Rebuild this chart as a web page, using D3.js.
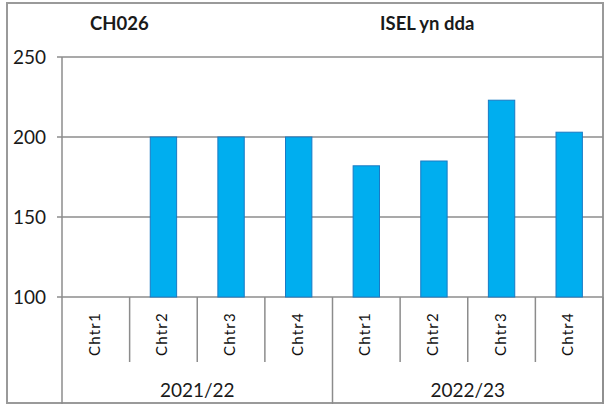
<!DOCTYPE html>
<html>
<head>
<meta charset="utf-8">
<script src="https://cdn.jsdelivr.net/npm/d3@7"></script>
<style>
body { margin: 0; background: #fff; }
svg { display: block; font-family: Lato, 'Liberation Sans', sans-serif; }
.grid line { stroke: #8c8c8c; stroke-width: 1.5; }
.bar { fill: #00aeef; stroke: #1a7ac4; stroke-width: 1; }
</style>
</head>
<body>
<svg width="605" height="404"></svg>
<script>
// chart data
var years = ["2021/22", "2022/23"];
var quarters = ["Chtr1", "Chtr2", "Chtr3", "Chtr4"];
var values2122 = [null, 200, 200, 200];
var values2223 = [182, 185, 223, 203];
var yTicks = [100, 150, 200, 250];
var titles = ["CH026", "ISEL yn dda"];

var svg = d3.select("svg");

// build the flat category list (year + quarter)
var rows = [];
years.forEach(function (yr, i) {
  var vals = i == 0 ? values2122 : values2223;
  quarters.forEach(function (q, j) {
    rows.push({ key: yr + "|" + q, year: yr, q: q, value: vals[j] });
  });
});

// plot box (note: "top" is taken by window.top, so use p* names)
var pLeft = 62, pRight = 603, pTop = 57, pBottom = 297;

var x = d3.scaleBand().domain(rows.map(function (d) { return d.key; }))
  .range([pLeft, pRight]).padding(0);
var y = d3.scaleLinear().domain([100, 250]).range([pBottom, pTop]);

// outer frame
svg.append("rect")
  .attr("x", 7).attr("y", 3).attr("width", 596).attr("height", 400)
  .attr("fill", "none").attr("stroke", "#9a9a9a").attr("stroke-width", 2);

// titles
svg.selectAll("text.title").data(titles).enter().append("text")
  .attr("class", "title")
  .attr("x", function (d, i) { return i == 0 ? 90 : 380; })
  .attr("y", 30)
  .attr("font-size", "18.5px").attr("font-weight", "bold").attr("fill", "#1a1a1a")
  .text(function (d) { return d; });

// gridlines + ticks
var grid = svg.append("g").attr("class", "grid");
grid.selectAll("line").data(yTicks).enter().append("line")
  .attr("x1", pLeft - 5).attr("x2", pRight)
  .attr("y1", function (d) { return y(d); }).attr("y2", function (d) { return y(d); });

svg.selectAll("text.ytick").data(yTicks).enter().append("text")
  .attr("class", "ytick")
  .attr("x", 46).attr("y", function (d) { return y(d); })
  .attr("dy", "0.35em").attr("text-anchor", "end")
  .attr("font-size", "19px").attr("fill", "#1a1a1a")
  .text(function (d) { return d; });

// bars
var bw = x.bandwidth() * 0.39;
svg.selectAll("rect.bar").data(rows.filter(function (d) { return d.value != null; }))
  .enter().append("rect").attr("class", "bar")
  .attr("x", function (d) { return x(d.key) + x.bandwidth() / 2 - bw / 2; })
  .attr("width", bw)
  .attr("y", function (d) { return y(d.value); })
  .attr("height", function (d) { return y(100) - y(d.value); });

// category axis: quarter dividers, year dividers
var axis = svg.append("g").attr("stroke", "#8c8c8c").attr("stroke-width", 1.5);
axis.append("line").attr("x1", pLeft).attr("x2", pLeft).attr("y1", pTop).attr("y2", pBottom);
rows.forEach(function (d, i) {
  if (i % 4 != 0) {
    axis.append("line").attr("x1", x(d.key)).attr("x2", x(d.key))
      .attr("y1", pBottom).attr("y2", 362);
  }
});
var yearEdges = [pLeft].concat(years.map(function (yr) { return x(yr + "|" + quarters[3]) + x.bandwidth(); }));
yearEdges.forEach(function (ex) {
  axis.append("line").attr("x1", ex).attr("x2", ex).attr("y1", pBottom).attr("y2", 404);
});

// quarter labels (rotated)
svg.selectAll("text.qlab").data(rows).enter().append("text")
  .attr("class", "qlab")
  .attr("transform", function (d) {
    return "translate(" + (x(d.key) + x.bandwidth() / 2 + 4) + ",334) rotate(-90)";
  })
  .attr("text-anchor", "middle")
  .attr("font-size", "15px").attr("letter-spacing", "1.2px").attr("fill", "#111")
  .text(function (d) { return d.q; });

// year labels
svg.selectAll("text.ylab").data(years).enter().append("text")
  .attr("class", "ylab")
  .attr("x", function (yr) { return x(yr + "|" + quarters[0]) + x.bandwidth() * 2; })
  .attr("y", 397)
  .attr("text-anchor", "middle")
  .attr("font-size", "19px").attr("fill", "#1a1a1a")
  .text(function (d) { return d; });
</script>
</body>
</html>
